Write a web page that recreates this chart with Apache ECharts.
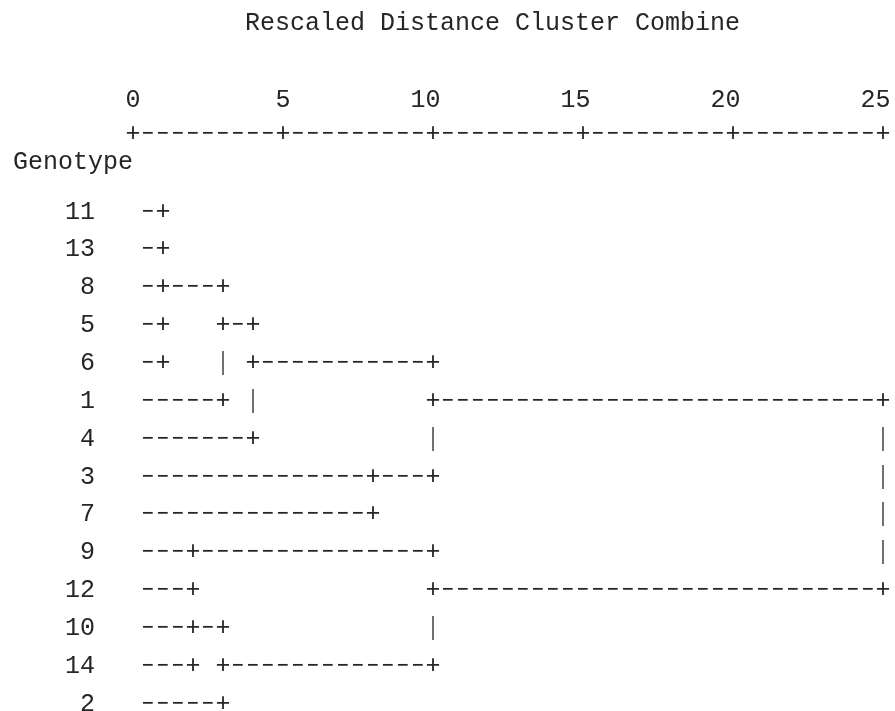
<!DOCTYPE html>
<html>
<head>
<meta charset="utf-8">
<script src="https://cdn.jsdelivr.net/npm/echarts@6/dist/echarts.min.js"></script>
<style>
html,body{margin:0;padding:0;background:#fff;overflow:hidden;}
#chart{width:895px;height:711px;}
</style>
</head>
<body>
<div id="chart"></div>
<script>
// ---- data ----
const titleText = 'Rescaled Distance Cluster Combine';
const axisTitle = 'Genotype';
const genotypes = ['11', '13', '8', '5', '6', '1', '4', '3', '7', '9', '12', '10', '14', '2'];
// agglomeration steps: members joined (leaves or earlier clusters C1..Cn) and rescaled distance
const mergeMembers = [
  ['11', '13', '8', '5', '6'],
  ['9', '12'],
  ['10', '14'],
  ['C1', '1'],
  ['C3', '2'],
  ['C4', '4'],
  ['3', '7'],
  ['C6', 'C7'],
  ['C2', 'C5'],
  ['C8', 'C9']
];
const mergeDistance = [1, 2, 2, 3, 3, 4, 8, 10, 10, 25];
const tickValues = [0, 5, 10, 15, 20, 25];

// ---- build the text dendrogram (2 character columns per distance unit) ----
const FONT = '25px "Liberation Mono", "DejaVu Sans Mono", monospace';
const INK = '#262626';
const DASH = '\u2212';
const cols = 51;
const grid = genotypes.map(() => new Array(cols).fill(' '));
const nodes = {};
genotypes.forEach((g, i) => { nodes[g] = { row: i, col: 0 }; });
mergeMembers.forEach((members, k) => {
  const c = Math.round(mergeDistance[k] * 2);
  const kids = members.map(m => nodes[m]);
  kids.forEach(n => {
    for (let j = n.col + 1; j < c; j++) grid[n.row][j] = DASH;
    grid[n.row][c] = '+';
  });
  const rows = kids.map(n => n.row);
  const lo = Math.min.apply(null, rows), hi = Math.max.apply(null, rows);
  for (let r = lo + 1; r < hi; r++) if (grid[r][c] === ' ') grid[r][c] = '|';
  const exit = Math.floor((lo + hi) / 2);
  if (k < mergeMembers.length - 1) grid[exit][c] = '+';
  nodes['C' + (k + 1)] = { row: exit, col: c };
});

const AXIS_ROW = -2.05; // row position of the "+-----+" scale line
const points = [];
const chars = [];
for (let j = 0; j < cols; j++) {
  points.push([j / 2, AXIS_ROW]);
  chars.push(tickValues.indexOf(j / 2) >= 0 ? '+' : DASH);
}
grid.forEach((line, r) => {
  line.forEach((ch, j) => {
    if (ch !== ' ') { points.push([j / 2, r]); chars.push(ch); }
  });
});

const chart = echarts.init(document.getElementById('chart'), null, { renderer: 'canvas' });
chart.setOption({
  animation: false,
  backgroundColor: '#ffffff',
  title: {
    text: titleText,
    left: 245,
    top: 11,
    padding: 0,
    textStyle: { fontFamily: '"Liberation Mono", monospace', fontSize: 25, fontWeight: 'normal', color: INK }
  },
  grid: { left: 133, right: 12, top: 212, bottom: 7, containLabel: false, outerBoundsMode: 'none' },
  xAxis: {
    type: 'value',
    position: 'top',
    min: 0,
    max: 25,
    interval: 5,
    axisLine: { show: false },
    axisTick: { show: false },
    splitLine: { show: false },
    axisLabel: {
      margin: 112,
      fontFamily: '"Liberation Mono", monospace',
      fontSize: 25,
      color: INK,
      align: 'center',
      verticalAlign: 'middle',
      formatter: v => (v >= 10 ? v + ' ' : '' + v)
    }
  },
  yAxis: {
    type: 'value',
    inverse: true,
    min: 0,
    max: 13,
    interval: 1,
    name: axisTitle,
    nameLocation: 'start',
    nameGap: 50,
    nameTextStyle: { fontFamily: '"Liberation Mono", monospace', fontSize: 25, color: INK, align: 'right', verticalAlign: 'middle' },
    axisLine: { show: false },
    axisTick: { show: false },
    splitLine: { show: false },
    axisLabel: {
      margin: 38,
      fontFamily: '"Liberation Mono", monospace',
      fontSize: 25,
      color: INK,
      formatter: v => genotypes[v]
    }
  },
  series: [{
    type: 'custom',
    clip: false,
    silent: true,
    data: points,
    renderItem: (params, api) => {
      const p = api.coord([api.value(0), api.value(1)]);
      const ch = chars[params.dataIndex];
      const isBar = ch === '|';
      return {
        type: 'text',
        x: p[0],
        y: p[1],
        scaleX: ch === DASH ? 0.8 : 1,
        style: { text: ch, font: FONT, fill: isBar ? '#707070' : INK, align: 'center', verticalAlign: 'middle' }
      };
    }
  }]
});
</script>
</body>
</html>
